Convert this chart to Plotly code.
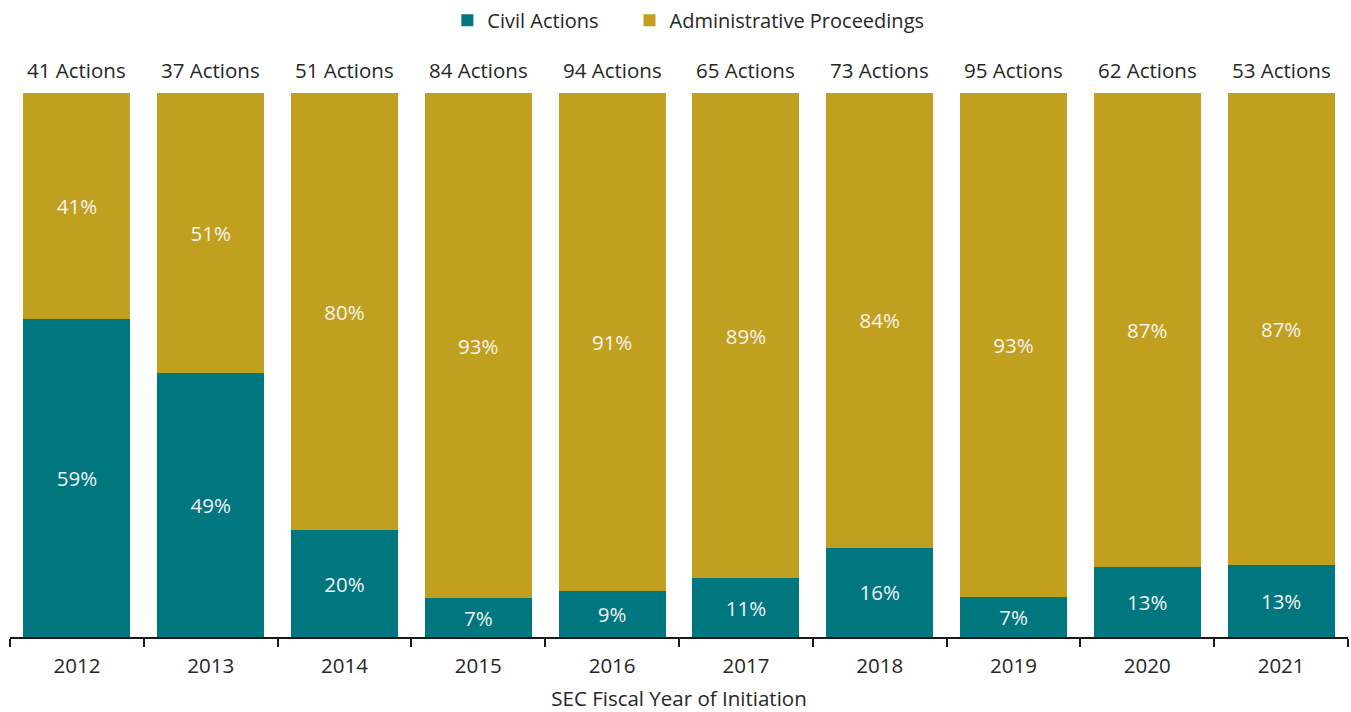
import plotly.graph_objects as go

years = ["2012", "2013", "2014", "2015", "2016", "2017", "2018", "2019", "2020", "2021"]
totals = [41, 37, 51, 84, 94, 65, 73, 95, 62, 53]
civil_pct = [58.5, 48.6, 19.6, 7.1, 8.5, 10.8, 16.4, 7.4, 12.9, 13.2]
admin_pct = [41.5, 51.4, 80.4, 92.9, 91.5, 89.2, 83.6, 92.6, 87.1, 86.8]
civil_labels = ["59%", "49%", "20%", "7%", "9%", "11%", "16%", "7%", "13%", "13%"]
admin_labels = ["41%", "51%", "80%", "93%", "91%", "89%", "84%", "93%", "87%", "87%"]

TEAL = "#00767F"
GOLD = "#C1A01F"
FONT = "Open Sans"
TXT = "#262626"
FS = 20.5

fig = go.Figure()
fig.add_trace(go.Bar(
    x=years, y=civil_pct, name="Civil Actions\u00a0\u00a0\u00a0\u00a0\u00a0",
    marker=dict(color=TEAL, line=dict(width=0)),
    text=civil_labels, textposition="inside", insidetextanchor="middle",
    textfont=dict(color="#F2F2F2", size=FS, family=FONT), hoverinfo="skip",
))
fig.add_trace(go.Bar(
    x=years, y=admin_pct, name="Administrative Proceedings", marker=dict(color=GOLD, line=dict(width=0)),
    text=admin_labels, textposition="inside", insidetextanchor="middle",
    textfont=dict(color="#F2F2F2", size=FS, family=FONT), hoverinfo="skip",
))

for i, t in enumerate(totals):
    fig.add_annotation(x=i, y=100, xref="x", yref="y", yanchor="bottom", yshift=7,
                       text=f"{t} Actions", showarrow=False,
                       font=dict(size=FS, color=TXT, family=FONT))

fig.update_layout(
    width=1351, height=712,
    barmode="stack", bargap=0.2,
    margin=dict(l=10, r=3, t=93, b=75),
    paper_bgcolor="white", plot_bgcolor="white",
    font=dict(family=FONT, size=FS, color=TXT),
    uniformtext=dict(mode=False),
    legend=dict(orientation="h", x=0.507, xanchor="center", y=0.999, yref="container", yanchor="top",
                font=dict(size=20, color=TXT, family=FONT), traceorder="normal",
                itemwidth=30),
    showlegend=True,
)
fig.update_xaxes(
    type="category", range=[-0.5, len(years) - 0.5], autorange=False,
    showline=True, linecolor="#1a1a1a", linewidth=2,
    ticks="outside", tickson="boundaries", ticklen=8, tickwidth=2, tickcolor="#1a1a1a",
    tickfont=dict(size=FS, color=TXT, family=FONT), tickangle=0, ticklabelstandoff=9,
    title=dict(text="SEC Fiscal Year of Initiation", font=dict(size=FS, color=TXT, family=FONT), standoff=15),
    showgrid=False,
)
fig.update_yaxes(range=[0, 100], visible=False, showgrid=False)

fig.write_html("out.html")
